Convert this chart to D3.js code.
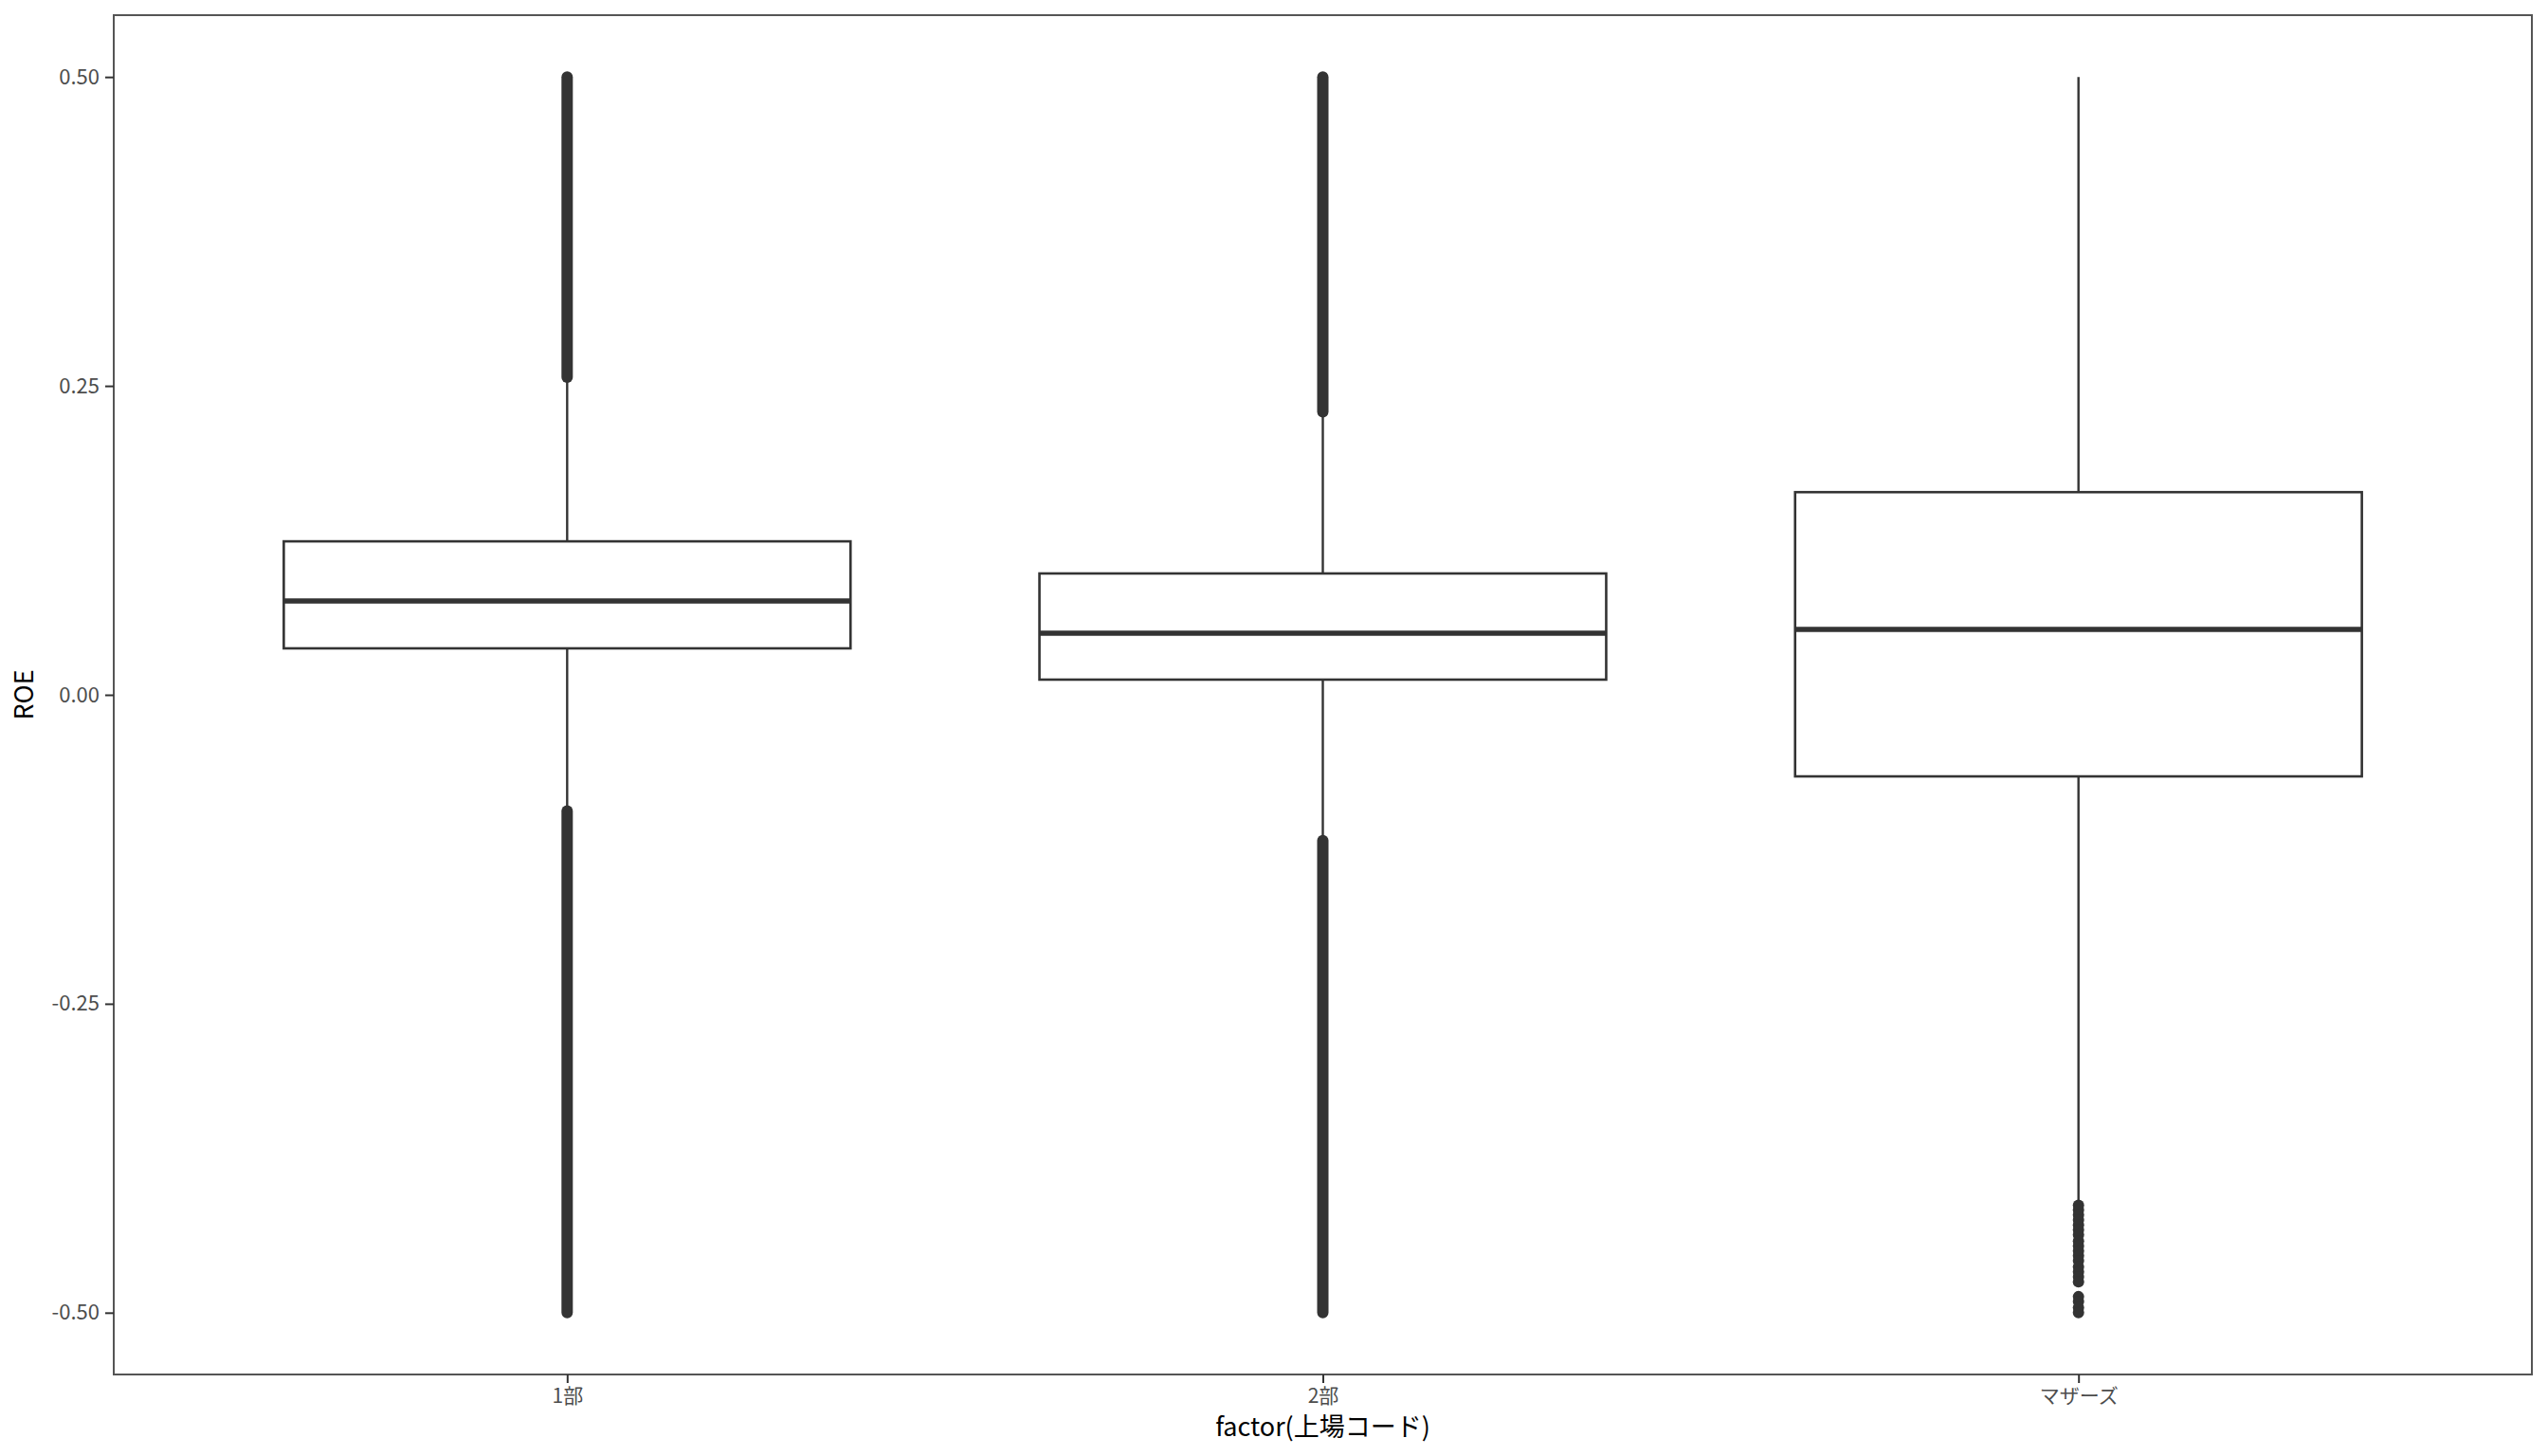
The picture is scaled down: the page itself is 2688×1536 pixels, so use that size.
<!DOCTYPE html>
<html>
<head>
<meta charset="utf-8">
<script src="https://cdn.jsdelivr.net/npm/d3@7"></script>
<style>
  html, body { margin: 0; padding: 0; background: #ffffff; }
  svg { display: block; }
</style>
</head>
<body>
<svg id="chart" width="2688" height="1536"></svg>
<script>
// ---- data ----
const categories = ["1部", "2部", "マザーズ"];
const q1Values = [0.0376, 0.0123, -0.066];
const medianValues = [0.0759, 0.0498, 0.0529];
const q3Values = [0.1242, 0.0982, 0.164];
const whiskerLow = [-0.093, -0.117, -0.411];
const whiskerHigh = [0.256, 0.228, 0.5];
// dense outlier columns (continuous runs of overlapping points): [category, low, high]
const outlierRuns = [
  ["1部", 0.257, 0.5], ["1部", -0.5, -0.094],
  ["2部", 0.229, 0.5], ["2部", -0.5, -0.118]
];
// individually visible outliers
const mothersOutliers = [-0.413, -0.417, -0.421, -0.425, -0.429, -0.433, -0.437, -0.442,
  -0.446, -0.450, -0.454, -0.458, -0.463, -0.467, -0.471, -0.475, -0.487, -0.491, -0.496, -0.5];
const yTicks = [-0.5, -0.25, 0, 0.25, 0.5];
const yTickLabels = ["-0.50", "-0.25", "0.00", "0.25", "0.50"];
const xTitle = "factor(上場コード)";
const yTitle = "ROE";

// ---- layout ----
const margin = {left: 120, top: 16, right: 2688 - 2671, bottom: 1536 - 1450};
const W = 2688, H = 1536;
const svg = d3.select("#chart");
const font = "'Noto Sans CJK JP', 'Noto Sans', sans-serif";

const x = d3.scalePoint().domain(categories)
  .range([margin.left, W - margin.right]).padding(0.6);
const step = x.step();
const boxW = step * 0.75;
const y = d3.scaleLinear().domain([-0.55, 0.55]).range([H - margin.bottom, margin.top]);

const ink = "#333333";

// boxes
const g = svg.append("g");
categories.forEach((c, i) => {
  const cx = x(c);
  g.append("line").attr("x1", cx).attr("x2", cx)
    .attr("y1", y(q3Values[i])).attr("y2", y(whiskerHigh[i]))
    .attr("stroke", ink).attr("stroke-width", 2.4);
  g.append("line").attr("x1", cx).attr("x2", cx)
    .attr("y1", y(q1Values[i])).attr("y2", y(whiskerLow[i]))
    .attr("stroke", ink).attr("stroke-width", 2.4);
  g.append("rect").attr("x", cx - boxW / 2).attr("width", boxW)
    .attr("y", y(q3Values[i])).attr("height", y(q1Values[i]) - y(q3Values[i]))
    .attr("fill", "#ffffff").attr("stroke", ink).attr("stroke-width", 2.6);
  g.append("line").attr("x1", cx - boxW / 2).attr("x2", cx + boxW / 2)
    .attr("y1", y(medianValues[i])).attr("y2", y(medianValues[i]))
    .attr("stroke", ink).attr("stroke-width", 5.5);
});

// outliers
const r = 6;
g.selectAll(".run").data(outlierRuns).join("line")
  .attr("x1", d => x(d[0])).attr("x2", d => x(d[0]))
  .attr("y1", d => y(d[1])).attr("y2", d => y(d[2]))
  .attr("stroke", ink).attr("stroke-width", 2 * r).attr("stroke-linecap", "round");
g.selectAll(".pt").data(mothersOutliers).join("circle")
  .attr("cx", x("マザーズ")).attr("cy", d => y(d)).attr("r", r).attr("fill", ink);

// panel border
svg.append("rect").attr("x", margin.left).attr("y", margin.top)
  .attr("width", W - margin.left - margin.right).attr("height", H - margin.top - margin.bottom)
  .attr("fill", "none").attr("stroke", "#555555").attr("stroke-width", 2);

// y axis
const yAxis = svg.append("g").attr("transform", `translate(${margin.left},0)`)
  .call(d3.axisLeft(y).tickValues(yTicks).tickFormat((d, i) => yTickLabels[i]).tickSize(9).tickPadding(6));
yAxis.select(".domain").remove();
yAxis.selectAll(".tick line").attr("stroke", ink).attr("stroke-width", 2);
yAxis.selectAll(".tick text").attr("fill", "#4d4d4d").style("font-family", font).style("font-size", "22px");

// x axis
const xAxis = svg.append("g").attr("transform", `translate(0,${H - margin.bottom})`)
  .call(d3.axisBottom(x).tickSize(9).tickPadding(6));
xAxis.select(".domain").remove();
xAxis.selectAll(".tick line").attr("stroke", ink).attr("stroke-width", 2);
xAxis.selectAll(".tick text").attr("fill", "#4d4d4d").style("font-family", font).style("font-size", "21px");

// titles
svg.append("text").attr("x", (margin.left + W - margin.right) / 2).attr("y", 1515)
  .attr("text-anchor", "middle").attr("fill", "#000").style("font-family", font)
  .style("font-size", "27px").text(xTitle);
svg.append("text").attr("transform", `translate(35,${(margin.top + H - margin.bottom) / 2}) rotate(-90)`)
  .attr("text-anchor", "middle").attr("fill", "#000").style("font-family", font)
  .style("font-size", "27px").text(yTitle);
</script>
</body>
</html>
